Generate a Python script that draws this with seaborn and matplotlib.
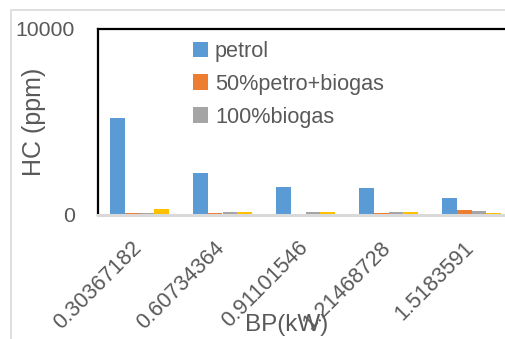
import matplotlib
matplotlib.use("Agg")
import matplotlib.pyplot as plt
from matplotlib.patches import Rectangle
from matplotlib.transforms import ScaledTranslation
import seaborn as sns
import pandas as pd

# Brake power (kW) categories and HC emissions (ppm) per fuel
bp_labels = ["0.30367182", "0.60734364", "0.91101546", "1.21468728", "1.5183591"]
petrol = [5200, 2240, 1490, 1435, 915]
petro_biogas_50 = [120, 120, 70, 120, 270]
biogas_100 = [100, 160, 160, 180, 215]
series4 = [320, 180, 160, 160, 120]

series_names = ["petrol", "50%petro+biogas", "100%biogas", "Series4"]
series_values = [petrol, petro_biogas_50, biogas_100, series4]
colors = ["#5B9BD5", "#ED7D31", "#A5A5A5", "#FFC000"]

rows = []
for name, vals in zip(series_names, series_values):
    for lab, v in zip(bp_labels, vals):
        rows.append({"BP": lab, "HC": v, "fuel": name})
df = pd.DataFrame(rows)

sns.set_theme(style="white")
plt.rcParams["font.family"] = ["Liberation Sans", "DejaVu Sans"]
text_color = "#595959"

W, H = 506, 339
fig = plt.figure(figsize=(W / 100, H / 100), dpi=100)

# chart area border
fig.patches.append(Rectangle((11 / W, -0.1), 1.2, (H - 10) / H + 0.1,
                             transform=fig.transFigure, fill=False,
                             edgecolor="#D9D9D9", linewidth=1.2))

ax = fig.add_axes([98 / W, 124 / H, 415 / W, 186 / H])
sns.barplot(data=df, x="BP", y="HC", hue="fuel", order=bp_labels,
            hue_order=series_names, palette=colors, width=0.71,
            saturation=1, linewidth=0, ax=ax)

ax.set_ylim(0, 10000)
ax.set_xlim(-0.5, 4.5)
ax.set_yticks([0, 10000])
ax.set_yticklabels(["0", "10000"])
ax.tick_params(axis="y", length=0, pad=16.5, labelsize=15.3, labelcolor=text_color)
ax.tick_params(axis="x", length=0, pad=16, labelsize=15.6, labelcolor=text_color)
shift = ScaledTranslation(-8 / 100, 0, fig.dpi_scale_trans)
for t in ax.get_xticklabels():
    t.set_rotation(45)
    t.set_ha("right")
    t.set_rotation_mode("anchor")
    t.set_transform(t.get_transform() + shift)

for side in ["left", "top"]:
    ax.spines[side].set_visible(True)
    ax.spines[side].set_color("black")
    ax.spines[side].set_linewidth(1.6)
ax.spines["right"].set_visible(False)
ax.spines["bottom"].set_color("#D9D9D9")
ax.spines["bottom"].set_linewidth(2.2)

ax.set_ylabel("HC (ppm)", fontsize=18, color=text_color)
ax.yaxis.set_label_coords(-0.125, 0.5)
ax.set_xlabel("")
fig.text(287 / W, 1 - 325 / H, "BP(kW)", ha="center", va="center",
         fontsize=17.5, color=text_color)

handles, labels = ax.get_legend_handles_labels()
ax.legend(handles[:3], labels[:3], loc="upper left",
          bbox_to_anchor=(182 / W, 1 - 30 / H), bbox_transform=fig.transFigure,
          frameon=False, fontsize=15.6, handlelength=0.72, handleheight=0.72,
          handletextpad=0.3, labelspacing=0.55, borderpad=0, labelcolor=text_color)

fig.savefig("out.png", dpi=100, facecolor="white")
